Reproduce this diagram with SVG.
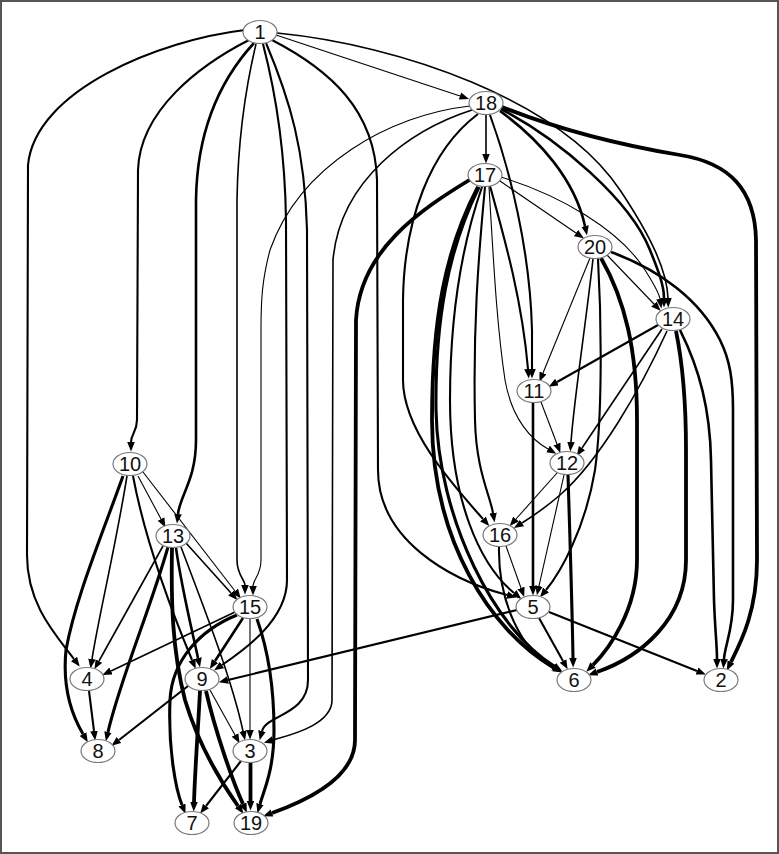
<svg xmlns="http://www.w3.org/2000/svg" width="779" height="854" viewBox="0 0 779 854">
<style>
.e{fill:none;stroke:#000;marker-end:url(#ah)}
.w1{stroke-width:1.1}
.w15{stroke-width:1.6}
.w2{stroke-width:2.1}
.w25{stroke-width:2.6}
.w3{stroke-width:3.1}
.w35{stroke-width:3.8}
.nd ellipse{fill:#fff;stroke:#777;stroke-width:1.2}
.nd text{font-family:"Liberation Sans",Arial,sans-serif;font-size:20px;text-anchor:middle;fill:#111}
</style>
<defs>
<marker id="ah" markerUnits="userSpaceOnUse" markerWidth="11" markerHeight="9" refX="0" refY="3.8" orient="auto">
<path d="M0,0 L9.5,3.8 L0,7.6 z" fill="#000"/>
</marker>
</defs>
<rect x="0" y="0" width="779" height="854" fill="#fff"/>
<rect x="1" y="1" width="777" height="852" fill="none" stroke="#555" stroke-width="2"/>
<g id="edges">
<path class="e w2" d="M245,30 C160,40 35,90 28,165 L27,555 C27,605 56,635 74,659"/>
<path class="e w2" d="M249,40 C200,65 140,110 138,170 L137,420 C137,432 131,434 131,442"/>
<path class="e w25" d="M254,43 C220,80 197,130 196,200 L196,440 C196,480 180,495 178,514"/>
<path class="e w15" d="M256,44 C245,90 238,140 237,200 L237,560 C237,575 245,580 245,585"/>
<path class="e w2" d="M263,44 C275,90 285,150 286,220 L287,580 C287,620 244,650 222,665"/>
<path class="e w2" d="M266,43 C290,100 305,150 307,230 L308,680 C308,715 266,715 262,731"/>
<path class="e w2" d="M272,40 C330,70 375,110 377,180 L378,470 C378,540 450,580 507,595"/>
<path class="e w1" d="M276,35 L460,96"/>
<path class="e w15" d="M277,33 C400,45 560,100 620,190 C650,235 667,270 668,298"/>
<path class="e w15" d="M486,115 L486,154"/>
<path class="e w1" d="M470,106 C390,115 300,165 270,250 C262,280 261,300 261,330 L261,560 C261,575 253,580 253,586"/>
<path class="e w15" d="M472,110 C410,130 340,180 333,260 L332,700 C332,725 290,735 273,740"/>
<path class="e w2" d="M478,114 C430,150 404,220 403,300 L403,380 C403,430 453,485 483,519"/>
<path class="e w2" d="M490,115 C510,170 530,250 532,330 L532,369"/>
<path class="e w25" d="M500,111 C540,140 575,180 585,226"/>
<path class="e w25" d="M501,109 C560,140 630,200 650,250 C658,270 664,285 664,298"/>
<path class="e w35" d="M502,107 C560,130 620,145 680,155 C730,163 755,190 756,240 L757,560 C757,610 742,640 731,662"/>
<path class="e w35" d="M471,179 C420,210 360,250 356,320 L355,740 C355,780 300,803 272,813"/>
<path class="e w35" d="M478,187 C445,250 432,320 432,420 C432,540 490,630 553,667"/>
<path class="e w3" d="M479,187 C448,250 435,320 436,410 C438,520 495,630 554,666"/>
<path class="e w2" d="M482,187 C460,250 450,320 450,400 C450,500 480,565 514,593"/>
<path class="e w2" d="M485,187 C478,260 473,330 475,420 C476,470 490,495 493,513"/>
<path class="e w1" d="M489,187 C493,250 496,320 505,380 C512,420 532,440 548,449"/>
<path class="e w2" d="M490,186 C505,240 522,300 528,369"/>
<path class="e w1" d="M500,181 L576,233"/>
<path class="e w1" d="M501,177 C560,195 620,230 645,270 C653,283 659,292 660,299"/>
<path class="e w1" d="M607,255 L654,304"/>
<path class="e w1" d="M590,258 L543,373"/>
<path class="e w15" d="M593,259 C585,330 574,400 571,442"/>
<path class="e w2" d="M598,259 C602,330 602,420 595,470 C585,530 560,573 546,590"/>
<path class="e w35" d="M601,258 C625,300 637,350 637,420 L637,560 C637,610 609,649 593,665"/>
<path class="e w25" d="M611,252 C660,270 700,300 720,340 C730,360 733,380 733,410 L733,600 C733,630 725,645 724,659"/>
<path class="e w2" d="M658,325 L557,382"/>
<path class="e w15" d="M662,329 L582,448"/>
<path class="e w15" d="M667,331 C640,390 600,460 560,495 C545,508 530,518 522,523"/>
<path class="e w35" d="M676,331 C684,370 686,410 686,450 L686,560 C686,620 640,657 597,672"/>
<path class="e w25" d="M680,330 C700,370 710,410 711,460 L714,600 C715,630 717,645 717,659"/>
<path class="e w25" d="M533,403 L533,586"/>
<path class="e w1" d="M541,402 L557,444"/>
<path class="e w1" d="M557,473 L516,519"/>
<path class="e w1" d="M564,475 L539,586"/>
<path class="e w3" d="M568,475 C570,540 572,600 573,658"/>
<path class="e w1" d="M506,546 L521,588"/>
<path class="e w2" d="M499,547 C498,600 520,650 554,668"/>
<path class="e w2" d="M539,618 L563,661"/>
<path class="e w2" d="M549,612 L697,671"/>
<path class="e w2" d="M517,610 L228,680"/>
<path class="e w15" d="M127,476 C115,550 100,610 92,659"/>
<path class="e w3" d="M123,476 C100,540 75,600 66,650 C62,690 73,717 83,734"/>
<path class="e w1" d="M138,476 L161,519"/>
<path class="e w1" d="M143,472 L235,591"/>
<path class="e w2" d="M133,476 C145,540 172,612 192,660"/>
<path class="e w15" d="M163,546 L99,661"/>
<path class="e w3" d="M168,547 C150,610 120,680 108,732"/>
<path class="e w15" d="M186,543 L231,593"/>
<path class="e w25" d="M176,548 C182,590 192,630 198,658"/>
<path class="e w15" d="M181,547 C205,610 232,680 243,731"/>
<path class="e w35" d="M172,548 C171,600 172,650 185,700 C200,750 226,789 238,806"/>
<path class="e w15" d="M235,612 L111,671"/>
<path class="e w25" d="M243,618 L215,661"/>
<path class="e w1" d="M250,619 L250,730"/>
<path class="e w3" d="M237,615 C200,630 172,660 170,700 C168,750 176,790 182,805"/>
<path class="e w3" d="M257,619 C268,650 274,690 274,730 C274,770 264,790 260,804"/>
<path class="e w2" d="M89,691 L94,731"/>
<path class="e w2" d="M188,686 L119,740"/>
<path class="e w1" d="M210,690 L235,735"/>
<path class="e w35" d="M200,691 C198,730 195,770 194,802"/>
<path class="e w35" d="M206,691 C215,730 232,780 243,804"/>
<path class="e w2" d="M241,761 L206,806"/>
<path class="e w35" d="M250.5,763 L250.5,801"/>
</g>
<g id="n1" class="nd"><ellipse cx="260" cy="32" rx="17" ry="11.5"/><text x="260" y="39">1</text></g>
<g id="n18" class="nd"><ellipse cx="486" cy="103" rx="17" ry="11.5"/><text x="486" y="110">18</text></g>
<g id="n17" class="nd"><ellipse cx="485" cy="175" rx="17" ry="11.5"/><text x="485" y="182">17</text></g>
<g id="n20" class="nd"><ellipse cx="595" cy="247" rx="17" ry="11.5"/><text x="595" y="254">20</text></g>
<g id="n14" class="nd"><ellipse cx="673" cy="319" rx="17" ry="11.5"/><text x="673" y="326">14</text></g>
<g id="n11" class="nd"><ellipse cx="534" cy="391" rx="17" ry="11.5"/><text x="534" y="398">11</text></g>
<g id="n12" class="nd"><ellipse cx="567" cy="463" rx="17" ry="11.5"/><text x="567" y="470">12</text></g>
<g id="n10" class="nd"><ellipse cx="130" cy="464" rx="17" ry="11.5"/><text x="130" y="471">10</text></g>
<g id="n13" class="nd"><ellipse cx="173" cy="536" rx="17" ry="11.5"/><text x="173" y="543">13</text></g>
<g id="n16" class="nd"><ellipse cx="500" cy="535" rx="17" ry="11.5"/><text x="500" y="542">16</text></g>
<g id="n15" class="nd"><ellipse cx="250" cy="607" rx="17" ry="11.5"/><text x="250" y="614">15</text></g>
<g id="n5" class="nd"><ellipse cx="533" cy="607" rx="17" ry="11.5"/><text x="533" y="614">5</text></g>
<g id="n4" class="nd"><ellipse cx="87" cy="679" rx="17" ry="11.5"/><text x="87" y="686">4</text></g>
<g id="n9" class="nd"><ellipse cx="202" cy="679" rx="17" ry="11.5"/><text x="202" y="686">9</text></g>
<g id="n6" class="nd"><ellipse cx="574" cy="680" rx="17" ry="11.5"/><text x="574" y="687">6</text></g>
<g id="n2" class="nd"><ellipse cx="721" cy="680" rx="17" ry="11.5"/><text x="721" y="687">2</text></g>
<g id="n8" class="nd"><ellipse cx="98" cy="751" rx="17" ry="11.5"/><text x="98" y="758">8</text></g>
<g id="n3" class="nd"><ellipse cx="250" cy="751" rx="17" ry="11.5"/><text x="250" y="758">3</text></g>
<g id="n7" class="nd"><ellipse cx="192" cy="823" rx="17" ry="11.5"/><text x="192" y="830">7</text></g>
<g id="n19" class="nd"><ellipse cx="251" cy="823" rx="17" ry="11.5"/><text x="251" y="830">19</text></g>
</svg>
